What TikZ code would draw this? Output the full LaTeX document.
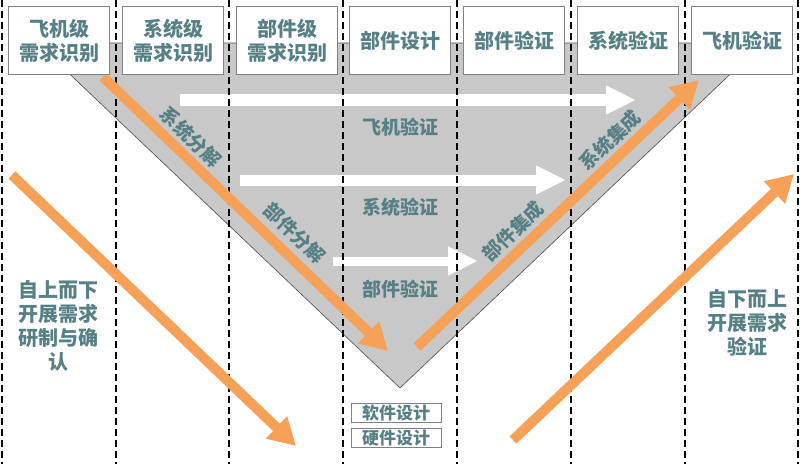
\documentclass[tikz,border=0pt]{standalone}
\usepackage{fontspec}
\setmainfont{Noto Sans CJK SC}
\usetikzlibrary{arrows.meta}
\definecolor{txt}{RGB}{86,128,133}
\definecolor{org}{RGB}{246,160,88}
\definecolor{tri}{RGB}{200,200,200}
\definecolor{edge}{RGB}{128,128,128}
\tikzset{
  topbox/.style={draw=edge,line width=1pt,fill=white,minimum width=101pt,minimum height=68pt,anchor=north west,inner sep=0pt,align=center,text=txt,font=\fontsize{20}{24}\selectfont\bfseries},
  botbox/.style={draw=edge,line width=1pt,fill=white,minimum width=90pt,minimum height=19pt,inner sep=0pt,text=txt,font=\fontsize{17}{18}\selectfont\bfseries},
  lbl/.style={text=txt,font=\fontsize{19}{22}\selectfont\bfseries,inner sep=0pt},
  sidetxt/.style={text=txt,font=\fontsize{20}{24}\selectfont\bfseries,align=center,inner sep=0pt},
  col/.style={black,line width=2pt,dash pattern=on 7pt off 4pt},
  whitearrow/.style={white,line width=#1,-{Triangle[length=30pt,width=27pt]}},
  orangearrow/.style={org,line width=10pt,-{Triangle[length=27pt,width=29pt]}},
}
\begin{document}
\begin{tikzpicture}[x=1pt,y=-1pt]
\useasboundingbox (0,0) rectangle (800,464);
% gray triangle
\coordinate (tl) at (37,43);
\coordinate (tr) at (763,43);
\coordinate (bv) at (400,388);
\fill[tri,draw=black!70,line width=0.6pt] (tl) -- (tr) -- (bv) -- cycle;
% white arrows
\coordinate (w1s) at (180,100); \coordinate (w1e) at (636,100);
\coordinate (w2s) at (240,180); \coordinate (w2e) at (566,180);
\coordinate (w3s) at (333,261); \coordinate (w3e) at (478,261);
\draw[whitearrow=12pt] (w1s) -- (w1e);
\draw[whitearrow=11pt] (w2s) -- (w2e);
\draw[whitearrow=9pt] (w3s) -- (w3e);
% dashed column lines
\foreach \x/\n in {2/a,116/b,229/c,343/d,457/e,571/f,685/g,798/h}{
  \coordinate (c\n t) at (\x,0); \coordinate (c\n b) at (\x,464);
  \draw[col] (c\n t) -- (c\n b);
}
% middle labels
\node[lbl] (v1) at (400,127) {飞机验证};
\node[lbl] (v2) at (400,207) {系统验证};
\node[lbl] (v3) at (400,289) {部件验证};
% rotated labels
\node[lbl,rotate=-44] (d1) at (191,137) {系统分解};
\node[lbl,rotate=-44] (d2) at (295,233) {部件分解};
\node[lbl,rotate=44] (i1) at (513,231) {部件集成};
\node[lbl,rotate=44] (i2) at (610,140) {系统集成};
% side texts
\node[sidetxt] (lt) at (58,326) {自上而下\\开展需求\\研制与确\\认};
\node[sidetxt] (rt) at (747,323) {自下而上\\开展需求\\验证};
% orange arrows
\coordinate (o1s) at (103,77); \coordinate (o1e) at (388,351);
\coordinate (o2s) at (417,347); \coordinate (o2e) at (699,80);
\coordinate (o3s) at (12,175); \coordinate (o3e) at (296,446);
\coordinate (o4s) at (513,440); \coordinate (o4e) at (794,174);
\draw[orangearrow] (o1s) -- (o1e);
\draw[orangearrow] (o2s) -- (o2e);
\draw[orangearrow] (o3s) -- (o3e);
\draw[orangearrow] (o4s) -- (o4e);
% top boxes
\node[topbox] (b1) at (8,6) {飞机级\\需求识别};
\node[topbox] (b2) at (122,6) {系统级\\需求识别};
\node[topbox] (b3) at (236,6) {部件级\\需求识别};
\node[topbox] (b4) at (349,6) {部件设计};
\node[topbox] (b5) at (463,6) {部件验证};
\node[topbox] (b6) at (577,6) {系统验证};
\node[topbox] (b7) at (691,6) {飞机验证};
% bottom boxes
\node[botbox] (s1) at (396,413) {软件设计};
\node[botbox] (s2) at (396,438) {硬件设计};
\end{tikzpicture}
\end{document}
